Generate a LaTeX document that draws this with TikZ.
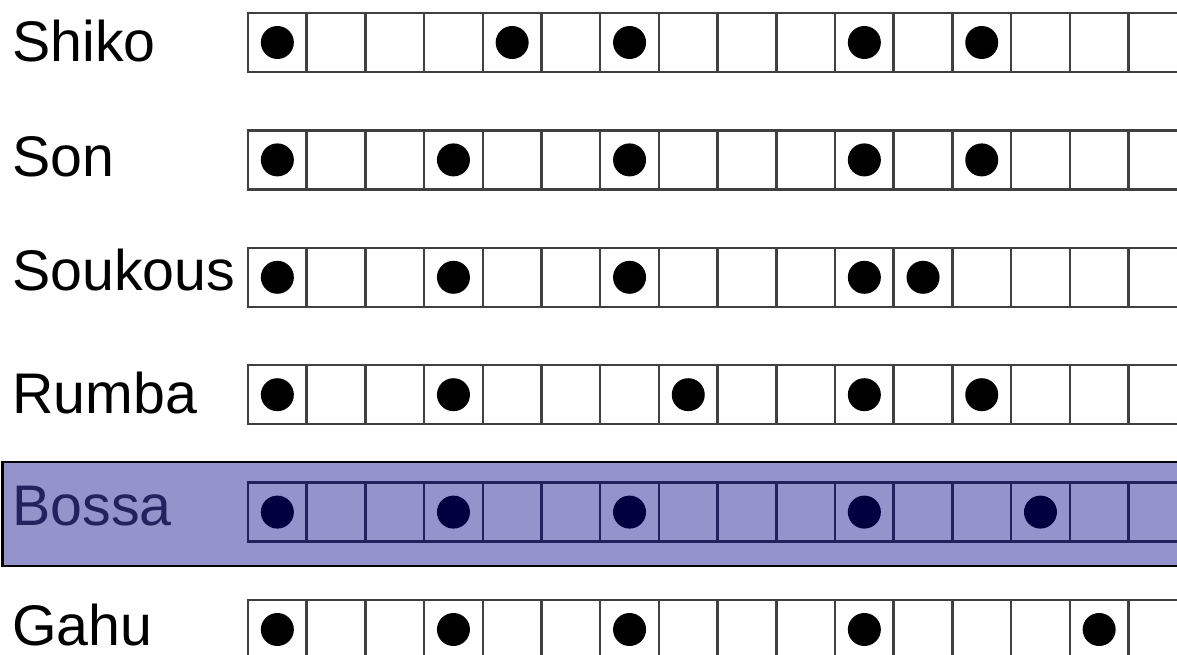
\documentclass[tikz,border=0pt]{standalone}
\usepackage{fontspec}
\setmainfont{Liberation Sans}
\usepackage{xcolor}
\usepackage{tikz}
\definecolor{bossafill}{HTML}{9494CC}
\definecolor{bossaink}{HTML}{22225E}
\definecolor{bossadot}{HTML}{000040}
\tikzset{
  rowname/.style = {anchor=base west, inner sep=0pt,
    font=\fontsize{27.7}{32}\selectfont},
  cell/.style = {line width=1.2pt, line cap=rect},
  beat/.style = {line width=0pt},
  hilite/.style = {fill=bossafill, draw=black, line width=1pt},
}

\begin{document}
\begin{tikzpicture}[x=0.017cm, y=-0.017cm]

  \useasboundingbox (0,0) rectangle (1177,655);
  \clip (0,0) rectangle (1177,655);

  % highlighted row
  \node[hilite, minimum width=1200*0.017cm, minimum height=104*0.017cm,
        anchor=north west, inner sep=0pt] (bossabar) at (1.5,461) {};

  % rhythm rows: name / row / baseline / onsets / text / lines / dots
  \foreach \name/\r/\bl/\beats/\txt/\ink/\dotc in {
      Shiko/0/62/{0,4,6,10,12}/black/black!75/black,
      Son/1/177/{0,3,6,10,12}/black/black!75/black,
      Soukous/2/291/{0,3,6,10,11}/black/black!75/black,
      Rumba/3/413/{0,3,7,10,12}/black/black!75/black,
      Bossa/4/525/{0,3,6,10,13}/bossaink/bossaink/bossadot,
      Gahu/5/645/{0,3,6,10,14}/black/black!75/black} {
    \pgfmathsetmacro{\yt}{13+117.4*\r}
    \pgfmathsetmacro{\yc}{\yt+29.5}
    \node[rowname, text=\txt] (\name) at (12,\bl) {\name};
    \draw[cell, draw=\ink] (248,\yt) rectangle (248+16*58.7,\yt+59);
    \foreach \k in {1,...,15}
      \draw[cell, draw=\ink] (248+\k*58.7,\yt) -- (248+\k*58.7,\yt+59);
    \foreach \k in \beats
      \fill[beat, \dotc] (248+29.35+\k*58.7,\yc) circle[radius=16.5];
  }

\end{tikzpicture}
\end{document}
